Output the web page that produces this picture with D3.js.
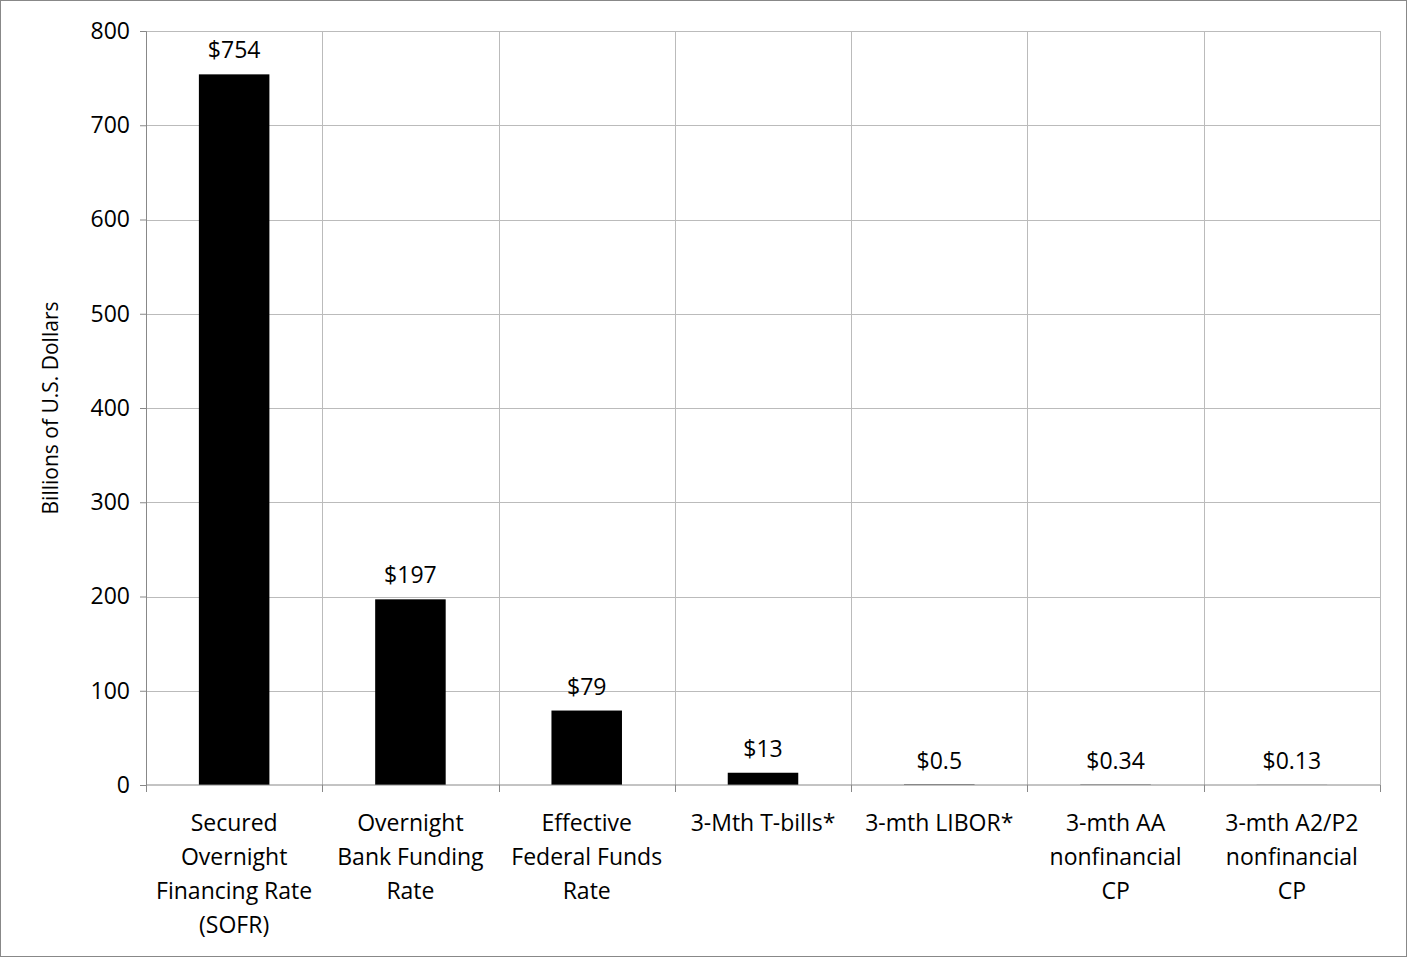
<!DOCTYPE html>
<html>
<head>
<meta charset="utf-8">
<script src="https://cdn.jsdelivr.net/npm/d3@7"></script>
<style>
body { margin: 0; background: #fff; }
text { font-family: "Open Sans", "Noto Sans", sans-serif; fill: #000; }
</style>
</head>
<body>
<div id="chart"></div>
<script>
// chart data
var categories = [
    ["Secured", "Overnight", "Financing Rate", "(SOFR)"],
    ["Overnight", "Bank Funding", "Rate"],
    ["Effective", "Federal Funds", "Rate"],
    ["3-Mth T-bills*"],
    ["3-mth LIBOR*"],
    ["3-mth AA", "nonfinancial", "CP"],
    ["3-mth A2/P2", "nonfinancial", "CP"]
];
var values = [754, 197, 79, 13, 0.5, 0.34, 0.13];
var valueLabels = ["$754", "$197", "$79", "$13", "$0.5", "$0.34", "$0.13"];
var yTicks = [0, 100, 200, 300, 400, 500, 600, 700, 800];

var W = 1408, H = 958;
var margin = {top: 31, right: 28, bottom: 173, left: 146};
var width = W - margin.left - margin.right;
var height = H - margin.top - margin.bottom;

var svg = d3.select("#chart").append("svg")
    .attr("width", W)
    .attr("height", H);

svg.append("rect")
    .attr("x", 0.5).attr("y", 0.5)
    .attr("width", W - 2).attr("height", H - 2)
    .attr("fill", "#fff").attr("stroke", "#888");

var g = svg.append("g")
    .attr("transform", "translate(" + margin.left + "," + margin.top + ")");

var x = d3.scaleBand().domain(d3.range(categories.length)).range([0, width]).paddingInner(0.6).paddingOuter(0.3);
var xEdge = d3.scaleLinear().domain([0, categories.length]).range([0, width]);
var y = d3.scaleLinear().domain([0, 800]).range([height, 0]);

// gridlines
g.selectAll(".hgrid").data(yTicks.slice(1)).enter().append("line")
    .attr("x1", 0).attr("x2", width)
    .attr("y1", function (d) { return Math.round(y(d)) + 0.5; })
    .attr("y2", function (d) { return Math.round(y(d)) + 0.5; })
    .attr("stroke", "#bbb");
g.selectAll(".vgrid").data(d3.range(1, categories.length + 1)).enter().append("line")
    .attr("x1", function (d) { return Math.round(xEdge(d)) + 0.5; })
    .attr("x2", function (d) { return Math.round(xEdge(d)) + 0.5; })
    .attr("y1", 0).attr("y2", height)
    .attr("stroke", "#bbb");

// bars
g.selectAll(".bar").data(values).enter().append("rect")
    .attr("x", function (d, i) { return x(i); })
    .attr("width", x.bandwidth())
    .attr("y", function (d) { return y(d); })
    .attr("height", function (d) { return height - y(d); })
    .attr("fill", "#000");

g.selectAll(".vlabel").data(values).enter().append("text")
    .attr("x", function (d, i) { return x(i) + x.bandwidth() / 2; })
    .attr("y", function (d) { return y(d) - 16; })
    .attr("text-anchor", "middle")
    .attr("font-size", 23)
    .text(function (d, i) { return valueLabels[i]; });

// y axis
var yAxis = g.append("g").call(d3.axisLeft(y).tickValues(yTicks).tickSize(6).tickPadding(10));
yAxis.select(".domain").attr("stroke", "#888");
yAxis.selectAll(".tick line").attr("stroke", "#888");
yAxis.selectAll("text").attr("font-size", 23).attr("font-family", "Open Sans, sans-serif");

// x axis
var xa = g.append("g").attr("transform", "translate(0," + height + ")");
xa.append("line").attr("x1", 0).attr("x2", width).attr("stroke", "#888");
xa.selectAll(".xt").data(d3.range(0, categories.length + 1)).enter().append("line")
    .attr("x1", function (d) { return Math.round(xEdge(d)) + 0.5; })
    .attr("x2", function (d) { return Math.round(xEdge(d)) + 0.5; })
    .attr("y1", 0).attr("y2", 7).attr("stroke", "#888");
xa.selectAll(".cat").data(categories).enter().append("text")
    .attr("text-anchor", "middle")
    .attr("font-size", 23)
    .attr("transform", function (d, i) { return "translate(" + (x(i) + x.bandwidth() / 2) + ",46)"; })
    .each(function (d) {
        var t = d3.select(this);
        d.forEach(function (line, k) {
            t.append("tspan").attr("x", 0).attr("y", k * 34).text(line);
        });
    });

svg.append("text")
    .attr("transform", "translate(58," + (margin.top + height / 2) + ") rotate(-90)")
    .attr("text-anchor", "middle")
    .attr("font-size", 21)
    .text("Billions of U.S. Dollars");
</script>
</body>
</html>
